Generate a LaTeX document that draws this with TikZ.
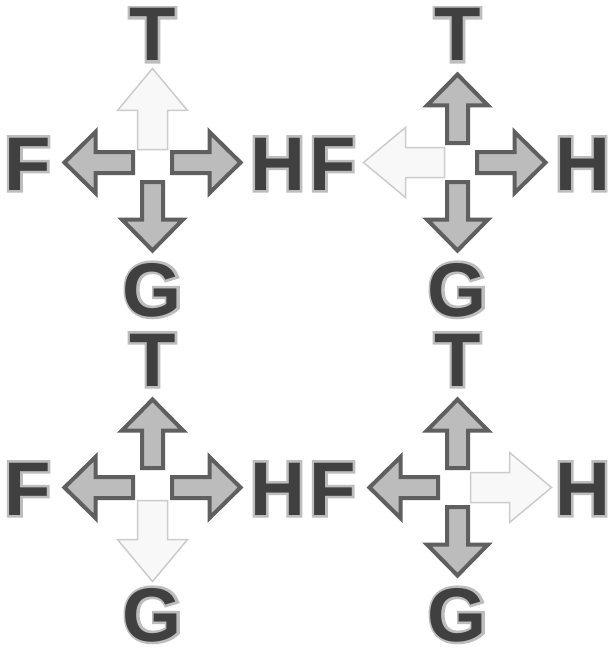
\documentclass[tikz,border=0pt]{standalone}
\usepackage{fontspec}
\setmainfont{Liberation Sans}
\definecolor{ink}{HTML}{404040}
\definecolor{halo}{HTML}{BDBDBD}
\definecolor{arrfill}{HTML}{BCBCBC}
\definecolor{arrline}{HTML}{5F5F5F}
\definecolor{fadefill}{HTML}{F8F8F8}
\definecolor{fadeline}{HTML}{CCCCCC}
% letter with a light grey outline (stroked copy) under the dark letter
\newcommand\halotext[1]{\leavevmode\rlap{\special{pdf:literal direct q 2 Tr 5 w 0 j}\textcolor{halo}{#1}\special{pdf:literal direct Q}}\textcolor{ink}{#1}}
\tikzset{
  lbl/.style={anchor=base, inner sep=0pt, font=\fontsize{76}{76}\selectfont\bfseries},
  arr/.pic={\draw[fill=arrfill, draw=arrline, line width=4pt, line join=miter]
      (19.5,-10.5) -- (57,-10.5) -- (57,-30.5) -- (88,0) -- (57,30.5) -- (57,10.5) -- (19.5,10.5) -- cycle;},
  farr/.pic={\draw[fill=fadefill, draw=fadeline, line width=1.5pt, line join=miter]
      (13,-15) -- (52,-15) -- (52,-35) -- (94,0) -- (52,35) -- (52,15) -- (13,15) -- cycle;}
}
\begin{document}
\begin{tikzpicture}[x=1pt,y=-1pt]
\useasboundingbox (0,0) rectangle (610,650);
\fill[white] (0,0) rectangle (610,650);
\foreach \cx/\cy/\k in {0/0/1, 305/0/2, 0/325/3, 305/325/4}{
  \begin{scope}[shift={(\cx,\cy)}]
    \coordinate (c\k) at (152.5,162.5);
    \node[lbl] (T\k) at (152.5,61) {\halotext{T}};
    \node[lbl] (F\k) at (27.5,190) {\halotext{F}};
    \node[lbl] (H\k) at (277.5,190) {\halotext{H}};
    \node[lbl] (G\k) at (152.5,316) {\halotext{G}};
  \end{scope}
}
% cell 1: up faded
\pic[rotate=90]  at (c1) {farr};
\pic[rotate=180] at (c1) {arr};
\pic[rotate=0]   at (c1) {arr};
\pic[rotate=270] at (c1) {arr};
% cell 2: left faded
\pic[rotate=90]  at (c2) {arr};
\pic[rotate=180] at (c2) {farr};
\pic[rotate=0]   at (c2) {arr};
\pic[rotate=270] at (c2) {arr};
% cell 3: down faded
\pic[rotate=90]  at (c3) {arr};
\pic[rotate=180] at (c3) {arr};
\pic[rotate=0]   at (c3) {arr};
\pic[rotate=270] at (c3) {farr};
% cell 4: right faded
\pic[rotate=90]  at (c4) {arr};
\pic[rotate=180] at (c4) {arr};
\pic[rotate=0]   at (c4) {farr};
\pic[rotate=270] at (c4) {arr};
\end{tikzpicture}
\end{document}
